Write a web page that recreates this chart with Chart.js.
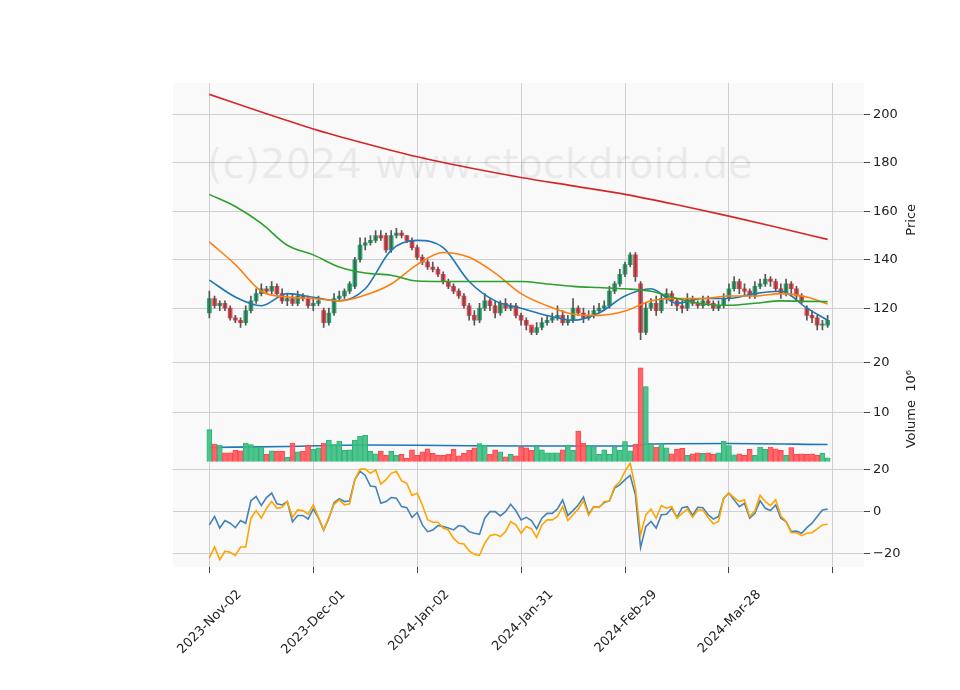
<!DOCTYPE html>
<html>
<head>
    <title>Stock chart</title>
    <script src="https://cdn.jsdelivr.net/npm/chart.js"></script>
    <style>
        body { margin: 0; background: #fff; }
        canvas { display: block; }
    </style>
</head>
<body>
    <canvas id="stockChart" width="960" height="690"></canvas>
    <script>
        // date tick labels (trading-day index -> label)
        const tickIdx = [0, 20, 40, 60, 80, 100, 120];
        const tickLabels = ['2023-Nov-02', '2023-Dec-01', '2024-Jan-02', '2024-Jan-31', '2024-Feb-29', '2024-Mar-28', ''];

        const opens = [118,124,121,122,120,116,115,114,119,123, 126,128,127,129,126,123,124,122,125,124,
            121,122,119,114,118,124,125,127,129,140, 146,147,148,150,150,144,150,151,150,148,
            145,141,139,137,136,134,131,129,127,125, 121,117,115,120,123,121,118,122,120,121,
            117,115,113,110,112,114,115,116,117,114, 115,120,118,116,117,119,120,121,127,130,
            134,138,142,130,110,120,122,119,124,126, 123,121,120,124,122,121,123,122,120,121,
            124,128,131,128,127,125,129,130,132,131, 128,126,130,128,125,120,117,116,113,113];
        const closes = [124,121,122,120,116,115,114,119,123,126, 128,127,129,126,123,124,122,125,124,121,
            122,123,114,118,124,125,127,130,140,146, 147,148,150,149,144,150,151,150,148,145,
            141,139,137,136,134,131,129,127,125,121, 117,115,120,123,121,118,122,120,121,117,
            115,113,110,112,114,115,116,117,114,115, 120,118,116,117,119,120,121,127,130,134,
            138,142,133,110,120,122,119,124,126,123, 121,120,124,122,121,123,122,120,121,124,
            128,131,128,127,125,129,130,132,131,128, 126,130,128,125,123,117,116,113,113,115];
        const highs = [127,125,123,123,121,117,116,121,125,128, 130,129,131,130,128,126,126,127,126,125,
            124,125,120,120,126,127,128,131,141,149, 149,150,152,152,151,152,153,152,150,149,
            146,142,140,139,137,135,132,130,128,126, 122,119,122,126,124,123,123,124,122,122,
            118,116,112,114,116,117,118,121,119,117, 124,121,120,119,121,122,123,129,131,136,
            139,143,143,131,122,124,125,126,128,127, 124,123,126,125,123,125,125,123,123,126,
            130,133,132,130,128,131,132,134,133,132, 130,132,131,129,126,121,119,117,115,117];
        const lows = [116,120,119,119,115,114,112,113,118,122, 125,126,126,125,122,121,121,121,123,120,
            119,121,112,113,117,123,124,126,128,139, 144,146,147,148,143,143,149,149,147,144,
            140,138,136,135,133,130,128,126,124,120, 115,113,114,119,119,116,117,119,119,116,
            113,111,109,109,111,113,114,115,113,113, 114,117,114,115,116,118,119,120,126,129,
            133,137,131,107,109,119,117,118,122,121, 119,118,119,121,120,120,121,119,119,120,
            123,127,126,125,124,124,128,129,129,127, 124,125,125,123,122,115,114,111,111,112];

        // moving averages, read every few days
        const maIdx = [0,5,10,15,20,25,30,35,40,45,50,55,60,65,70,75,80,85,90,95,100,105,110,115,119];
        const maFast = [131.6,124.6,121,126,124.5,123,128,144,148,145,131,123,120,117,115,118,125,128,122,124,124,126,127,120,115];
        const maMid = [147.4,138,127,124.6,124,123,125.4,130,138,143,141,134.5,126,121,117.5,117,118.8,123,124,124,125,125,126,124.6,121.7];
        const maSlow = [167,162,155,146,142,137,134.5,133.6,131.2,131,131,131,131,130,129,128.5,128,127,124,121.7,121.2,122,123,122.8,122.7];
        const maLongIdx = [0,10,20,30,40,50,60,70,80,90,100,110,119];
        const maLong = [208.3,201,194,188,182.5,178,174,170.5,167,162.7,158,153,148.4];

        const volumes = [6.5,3.6,3.4,1.8,1.8,2.3,2.2,3.8,3.5,2.9, 3.0,1.5,2.2,2.1,2.1,0.9,3.8,2.0,2.1,3.4,
            2.5,2.8,3.8,4.4,3.5,4.2,2.3,2.4,4.4,5.2, 5.4,2.1,1.6,2.1,1.3,2.1,1.3,1.5,0.7,2.4,
            1.3,2.0,2.6,1.7,1.3,1.3,1.5,2.5,1.2,1.7, 2.3,2.8,3.7,3.4,1.5,2.4,2.0,1.0,1.5,1.2,
            3.0,2.8,2.3,3.2,2.4,1.8,1.8,1.8,2.4,3.4, 2.3,6.2,3.8,3.3,3.0,1.5,2.4,1.5,3.0,2.3,
            4.1,2.2,3.6,19.0,15.2,3.6,3.0,3.7,2.8,1.6, 2.5,2.7,1.3,1.6,1.8,1.7,1.8,1.5,1.8,4.2,
            3.3,1.4,1.6,1.3,2.5,1.3,3.0,2.5,3.0,2.6, 2.3,1.3,2.9,1.5,1.6,1.5,1.6,1.3,1.7,0.8];
        const volMaIdx = [0,15,30,45,60,75,82,84,100,119];
        const volMa = [2.9,3.1,3.4,3.3,3.2,3.2,3.2,3.6,3.7,3.5];

        const oscFast = [-6.5,-2.5,-8,-4.4,-5.7,-7.8,-4.4,-5.7,5,7, 2.7,6.5,8.6,3.5,3,4.6,-5,-2,-2,-3.7,
            1.1,-3.3,-9,-3.3,4,5.9,4.6,5,15,19, 17,12,11.7,3.8,4.6,6.5,6.2,2.2,1.7,-2.9,
            -0.6,-6.5,-9.7,-8.9,-6.8,-7.3,-8,-8.9,-6.8,-7.3, -9.7,-10.5,-11,-3.3,-0.2,-0.2,-2.2,-0.2,3.3,0.2,
            -4.1,-2.9,-4.4,-8.4,-3.3,-1,-1,1.1,5.4,-2, 0.3,3,6.7,-1.4,2.2,1.9,4.1,4.9,11,12.5,
            15,17,7.8,-17.3,-7.3,-4.9,-8,-1.7,-1.4,1.4, -2.9,1.7,2.2,-2,1.9,1.7,-1.7,-3.7,-2.5,6.2,
            8.6,5.4,2.2,3.8,-3.3,-1,5,1.4,0.3,3, -3.3,-4.9,-9.7,-9.4,-10.5,-7.8,-5.7,-2.5,0.6,1];
        const oscSlow = [-22,-17,-23,-19,-19.5,-21,-17,-17,-3.3,0.3, -3.3,1.4,4.6,1.4,1.9,4.6,-2.9,0.6,0.3,-1.4,
            3,-2.9,-8.9,-3,3.3,5.4,3,3.5,15,20, 20,18,19.7,12.9,15,18,19,14.4,13.3,7.5,
            8.6,3,-4,-5.2,-5.2,-8,-8.9,-12.9,-15.2,-15.6, -18.9,-20.5,-21,-15.2,-11.6,-11,-12,-9.7,-4.9,-6.5,
            -10.5,-7.3,-8.4,-12.5,-6.5,-4.1,-4.1,-2.5,2.2,-4.4, -1.7,1.1,5,-2,2.2,1.7,4.6,4.9,11.7,14,
            19,22.8,11,-11.3,-1.7,1,-3.3,2.7,1.4,2.2, -3.3,-1,1.1,-2.9,0.6,0.6,-3,-6,-4.9,6.2,
            8.6,6.5,4.6,5.4,-2.5,0.2,7.5,4.6,2.7,5.4, -2.2,-4.9,-10.2,-10.2,-11.6,-10.5,-10.2,-8.4,-6.5,-6.2];

        const upColor = '#1fae6c', downColor = '#ff3b47';
        const candleColors = closes.map((c, i) => c >= opens[i] ? upColor : downColor);
        const volColors = closes.map((c, i) => c >= opens[i] ? 'rgba(60,190,130,0.9)' : 'rgba(255,85,90,0.9)');

        const pts = (xs, ys) => xs.map((x, i) => ({ x: x, y: ys[i] }));
        const idx = closes.map((c, i) => i);

        // light panel background, watermark and axis titles
        const panelPlugin = {
            id: 'panels',
            beforeDraw(chart) {
                const ctx = chart.ctx, a = chart.chartArea;
                ctx.save();
                ctx.fillStyle = '#fff';
                ctx.fillRect(0, 0, chart.width, chart.height);
                ctx.fillStyle = '#f9f9f9';
                ['y', 'yVol', 'yOsc'].forEach(id => {
                    const s = chart.scales[id];
                    ctx.fillRect(a.left, s.top, a.right - a.left, s.bottom - s.top);
                });
                ctx.restore();
            },
            afterDatasetsDraw(chart) {
                const ctx = chart.ctx;
                ctx.save();
                ctx.font = '40px "DejaVu Sans"';
                ctx.fillStyle = 'rgba(0,0,0,0.06)';
                ctx.fillText('(c)2024 www.stockdroid.de', 207, 178);
                ctx.restore();
            },
            afterDraw(chart) {
                const ctx = chart.ctx;
                const titles = [['Price', 'y'], ['Volume  10\u2076', 'yVol']];
                ctx.save();
                ctx.font = '13px "DejaVu Sans"';
                ctx.fillStyle = '#222';
                ctx.textAlign = 'center';
                ctx.textBaseline = 'middle';
                titles.forEach(([t, id]) => {
                    const s = chart.scales[id];
                    ctx.save();
                    ctx.translate(912, (s.top + s.bottom) / 2);
                    ctx.rotate(-Math.PI / 2);
                    ctx.fillText(t, 0, 0);
                    ctx.restore();
                });
                ctx.restore();
            }
        };

        const fixWidth = s => { s.width = 96; };
        const tickFont = { family: 'DejaVu Sans', size: 13 };
        const gridCol = '#cfcfcf';

        new Chart(document.getElementById('stockChart').getContext('2d'), {
            data: {
                datasets: [
                    { type: 'line', data: pts(maLongIdx, maLong), borderColor: '#d62728', borderWidth: 1.6, pointRadius: 0, cubicInterpolationMode: 'monotone', yAxisID: 'y' },
                    { type: 'line', data: pts(maIdx, maSlow), borderColor: '#2ca02c', borderWidth: 1.6, pointRadius: 0, cubicInterpolationMode: 'monotone', yAxisID: 'y' },
                    { type: 'line', data: pts(maIdx, maMid), borderColor: '#ff7f0e', borderWidth: 1.6, pointRadius: 0, cubicInterpolationMode: 'monotone', yAxisID: 'y' },
                    { type: 'line', data: pts(maIdx, maFast), borderColor: '#1f77b4', borderWidth: 1.6, pointRadius: 0, cubicInterpolationMode: 'monotone', yAxisID: 'y' },
                    { type: 'bar', data: idx.map(i => ({ x: i, y: [lows[i], highs[i]] })), backgroundColor: '#555', barThickness: 1, grouped: false, yAxisID: 'y' },
                    { type: 'bar', data: idx.map(i => ({ x: i, y: [opens[i], closes[i]] })), backgroundColor: candleColors, barThickness: 4, minBarLength: 1, grouped: false, yAxisID: 'y' },
                    { type: 'bar', data: pts(idx, volumes), backgroundColor: volColors, borderColor: candleColors, borderWidth: 0.5, barThickness: 5, grouped: false, yAxisID: 'yVol' },
                    { type: 'line', data: pts(volMaIdx, volMa), borderColor: '#1f77b4', borderWidth: 1.6, pointRadius: 0, cubicInterpolationMode: 'monotone', yAxisID: 'yVol' },
                    { type: 'line', data: pts(idx, oscSlow), borderColor: '#ffa500', borderWidth: 1.6, pointRadius: 0, yAxisID: 'yOsc' },
                    { type: 'line', data: pts(idx, oscFast), borderColor: '#4682b4', borderWidth: 1.6, pointRadius: 0, yAxisID: 'yOsc' }
                ]
            },
            options: {
                responsive: false,
                animation: false,
                layout: { padding: { top: 83, left: 173, right: 0, bottom: 0 } },
                plugins: { legend: { display: false }, tooltip: { enabled: false } },
                scales: {
                    x: {
                        type: 'linear', min: -7, max: 126, offset: false,
                        afterBuildTicks: s => { s.ticks = tickIdx.map(v => ({ value: v })); },
                        afterFit: s => { s.height = 123; },
                        ticks: {
                            font: tickFont, color: '#222', maxRotation: 45, minRotation: 45, autoSkip: false,
                            labelOffset: 30, padding: 14,
                            callback: v => tickLabels[tickIdx.indexOf(v)]
                        },
                        grid: { color: gridCol, tickLength: 6, tickColor: '#444', offset: false },
                        border: { display: false }
                    },
                    y: {
                        position: 'right', stack: 'panes', stackWeight: 2.6, min: 100, max: 213, offset: false,
                        afterBuildTicks: s => { s.ticks = [120, 140, 160, 180, 200].map(v => ({ value: v })); },
                        afterFit: fixWidth,
                        ticks: { font: tickFont, color: '#222' },
                        grid: { color: gridCol, tickLength: 6, tickColor: '#444' },
                        border: { display: false }
                    },
                    yVol: {
                        position: 'right', stack: 'panes', stackWeight: 1, min: 0, max: 21.3, offset: false,
                        afterBuildTicks: s => { s.ticks = [10, 20].map(v => ({ value: v })); },
                        afterFit: fixWidth,
                        ticks: { font: tickFont, color: '#222' },
                        grid: { color: gridCol, tickLength: 6, tickColor: '#444' },
                        border: { display: false }
                    },
                    yOsc: {
                        position: 'right', stack: 'panes', stackWeight: 1, min: -26.5, max: 23.5, offset: false,
                        afterBuildTicks: s => { s.ticks = [-20, 0, 20].map(v => ({ value: v })); },
                        afterFit: fixWidth,
                        ticks: { font: tickFont, color: '#222', callback: v => v < 0 ? '\u2212' + (-v) : v },
                        grid: { color: gridCol, tickLength: 6, tickColor: '#444' },
                        border: { display: false }
                    }
                }
            },
            plugins: [panelPlugin]
        });
    </script>
</body>
</html>
